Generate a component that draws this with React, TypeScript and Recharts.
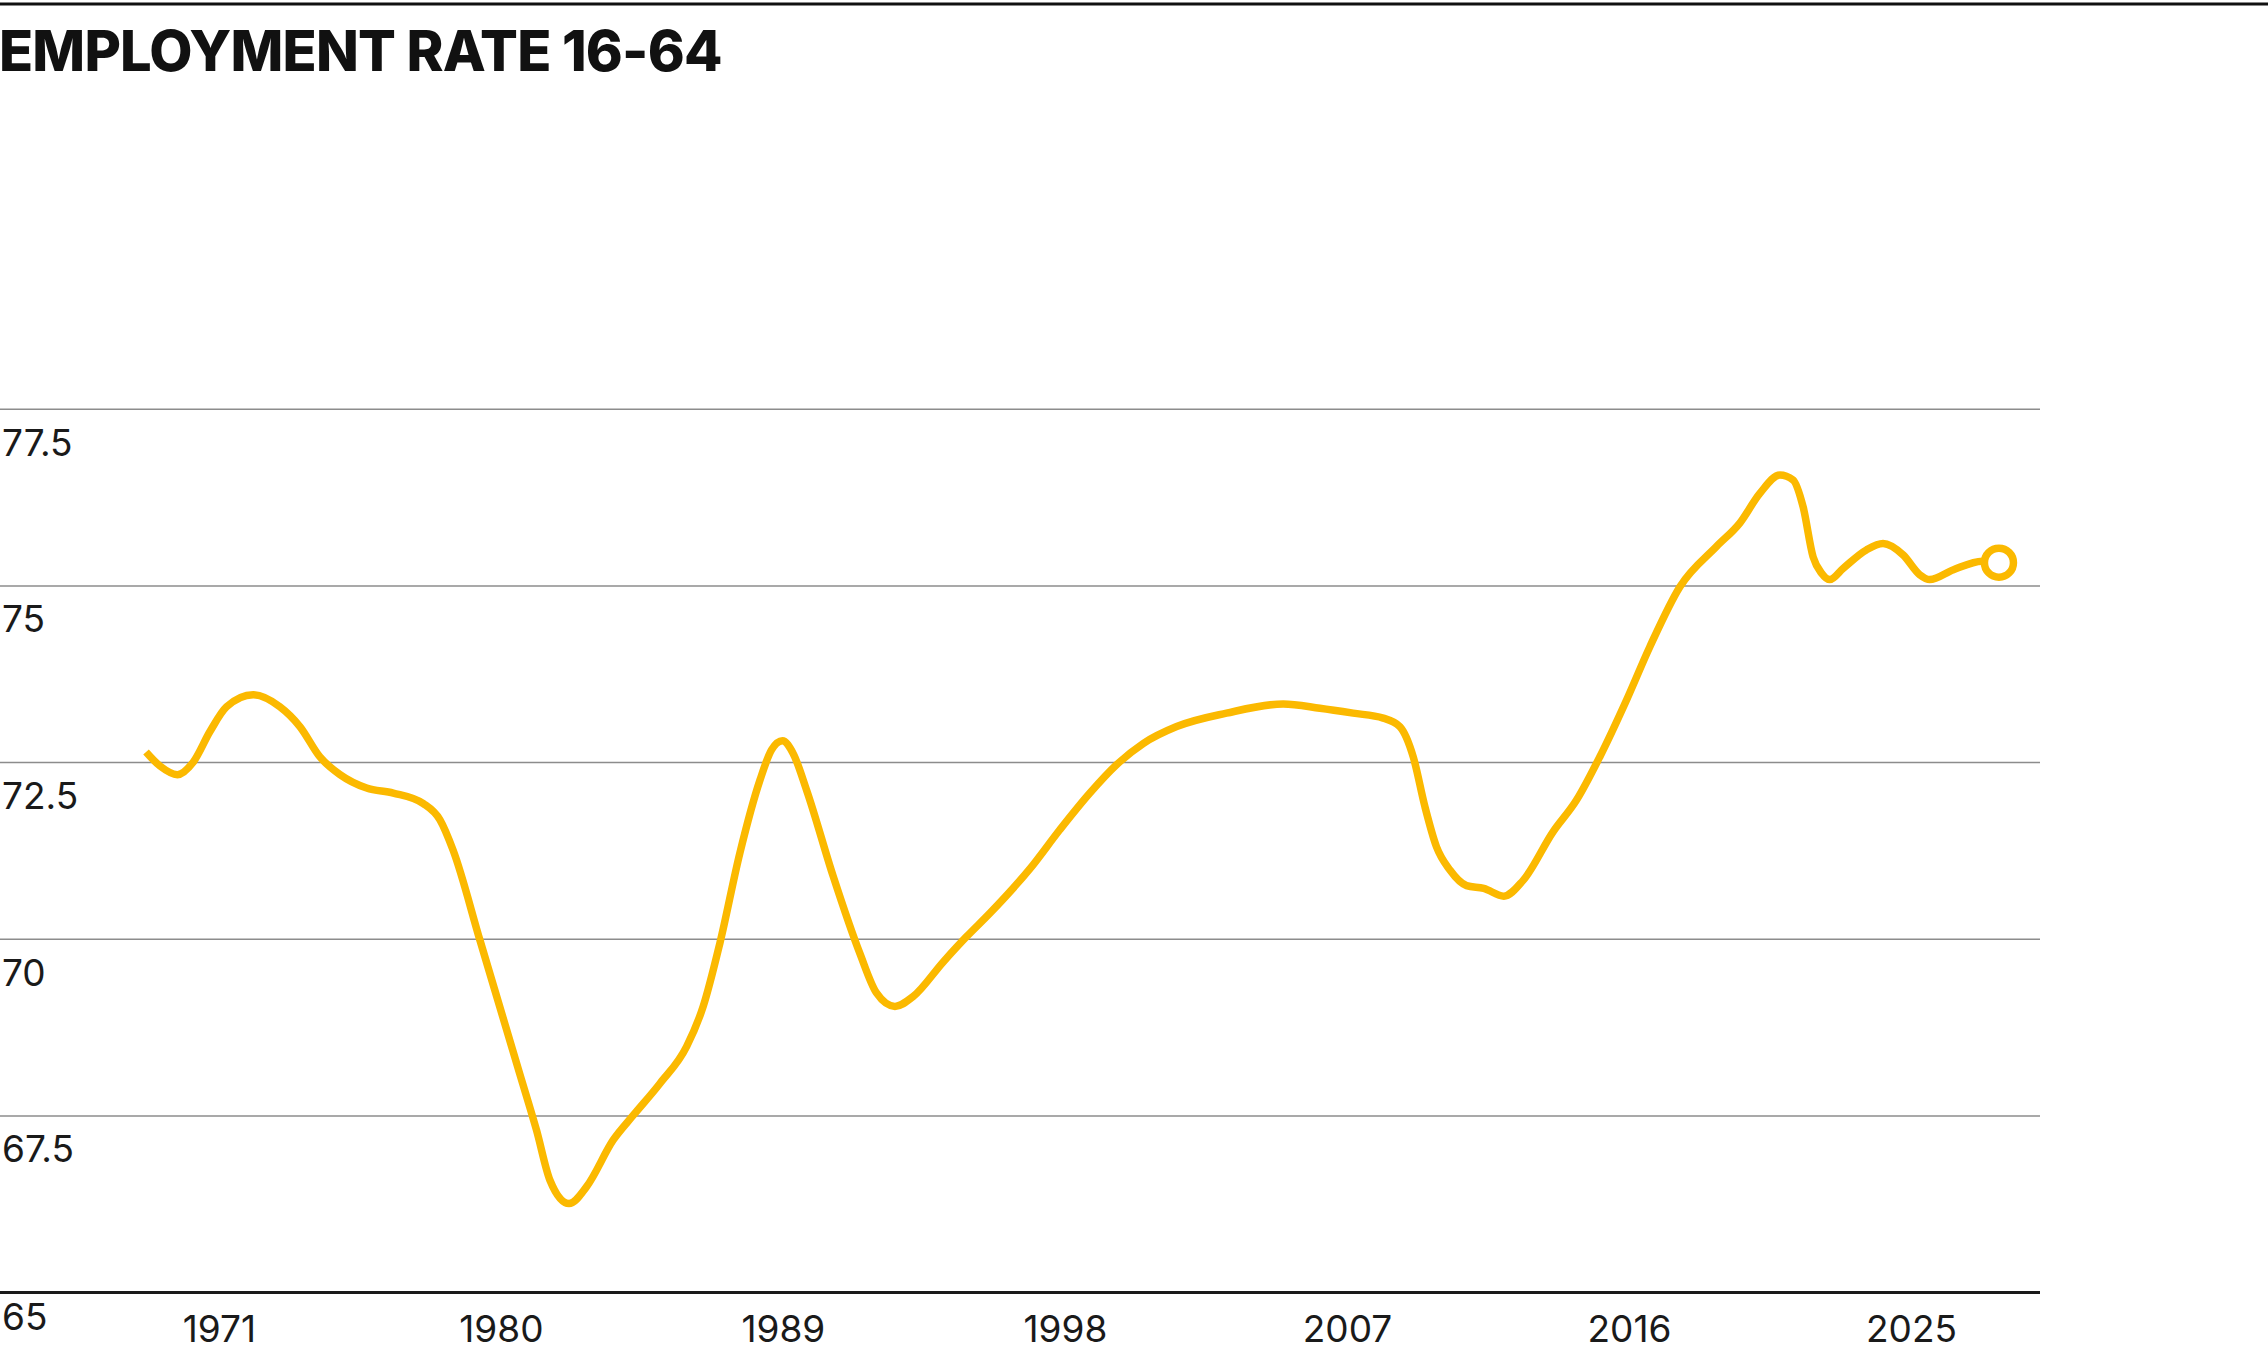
import React from "react";
import { LineChart, Line, XAxis, YAxis, CartesianGrid } from "recharts";

const TITLE = "EMPLOYMENT RATE 16-64";

const years: number[] = [
  1968.66, 1969.11, 1969.66, 1970.17, 1970.7, 1971.23, 1972.08, 1972.93, 1973.57, 1974.21,
  1974.85, 1975.7, 1976.55, 1977.51, 1978.04, 1978.46, 1979.32, 1980.59, 1981.12, 1981.55,
  1982.16, 1982.72, 1983.57, 1984.21, 1985.06, 1985.91, 1986.44, 1986.97, 1987.61, 1988.25,
  1988.62, 1988.97, 1989.31, 1989.74, 1990.59, 1991.44, 1991.97, 1992.56, 1993.14, 1994.1,
  1994.85, 1995.59, 1996.87, 1997.82, 1998.78, 1999.63, 2000.48, 2001.55, 2003.14,
  2004.95, 2006.12, 2007.18, 2008.14, 2008.67, 2009.1, 2009.47, 2009.84, 2010.27, 2010.8,
  2011.35, 2011.99, 2012.6, 2013.56, 2014.31, 2015.05, 2015.91, 2016.65, 2017.61, 2018.78,
  2019.52, 2020.16, 2020.8, 2021.22, 2021.54, 2021.86, 2022.13, 2022.39, 2022.82, 2023.56,
  2024.09, 2024.73, 2025.26, 2025.58, 2026.34, 2027.26, 2027.79,
];

const rates: number[] = [
  72.65, 72.45, 72.33, 72.51, 72.94, 73.29, 73.46, 73.29, 73.01, 72.58,
  72.33, 72.14, 72.07, 71.92, 71.69, 71.26, 69.98, 68.09, 67.3, 66.59,
  66.26, 66.5, 67.16, 67.51, 67.96, 68.48, 69.05, 69.94, 71.22, 72.25,
  72.68, 72.81, 72.63, 72.11, 70.89, 69.8, 69.24, 69.05, 69.19, 69.68,
  70.04, 70.37, 71.0, 71.55, 72.07, 72.47, 72.77, 73.01, 73.2,
  73.33, 73.27, 73.2, 73.13, 73.01, 72.58, 71.88, 71.31, 70.98, 70.76,
  70.72, 70.61, 70.83, 71.52, 71.97, 72.58, 73.39, 74.14, 74.99, 75.56,
  75.89, 76.31, 76.57, 76.5, 76.12, 75.41, 75.18, 75.09, 75.25, 75.51,
  75.6, 75.44, 75.16, 75.09, 75.23, 75.35, 75.33,
];

const xTicks: number[] = [1971, 1980, 1989, 1998, 2007, 2016, 2025];
const yTicks: number[] = [65, 67.5, 70, 72.5, 75, 77.5];

const data = years.map((y, i) => ({ year: y, rate: rates[i] }));

const YELLOW = "#FBB900";
const TEXT = "#1a1a1a";
const FONT = "Inter, 'Noto Sans', sans-serif";

const YTick = (props: any) => {
  const { y, payload } = props;
  const off = payload.value === 65 ? 37.5 : 46.5;
  return (
    <text x={2} y={y + off} fontSize={37} fill={TEXT} fontFamily={FONT} textAnchor="start">
      {String(payload.value)}
    </text>
  );
};

const XTick = (props: any) => {
  const { x, y, payload } = props;
  return (
    <text x={x} y={y + 41} fontSize={37} fill={TEXT} fontFamily={FONT} textAnchor="middle">
      {String(payload.value)}
    </text>
  );
};

const renderDot = (props: any) => {
  const { cx, cy, index } = props;
  if (index === data.length - 1) {
    return (
      <circle key={`dot-${index}`} cx={cx} cy={cy} r={14.5} fill="#ffffff" stroke={YELLOW} strokeWidth={7.5} />
    );
  }
  return <g key={`dot-${index}`} />;
};

export default function App() {
  return (
    <div style={{ position: "absolute", left: 0, top: 0, width: 2268, height: 1355, background: "#fff" }}>
      <svg width={2268} height={100} style={{ position: "absolute", left: 0, top: 0 }}>
        <rect x={0} y={2.5} width={2268} height={3} fill="#111" />
        <text x={-1} y={70.7} fontSize={56} fontWeight={800} fill="#111" fontFamily={FONT} letterSpacing={-0.8}>
          {TITLE}
        </text>
      </svg>
      <div style={{ position: "absolute", left: 0, top: 0 }}>
        <LineChart
          width={2268}
          height={1355}
          data={data}
          margin={{ top: 409.3, right: 228, bottom: 0, left: -1 }}
        >
          <CartesianGrid vertical={false} stroke="#8c8c8c" strokeWidth={1.5} />
          <XAxis
            type="number"
            dataKey="year"
            domain={[1964, 2029.1]}
            ticks={xTicks}
            allowDataOverflow
            height={62.4}
            tickLine={false}
            axisLine={{ stroke: TEXT, strokeWidth: 3 }}
            tick={<XTick />}
            interval={0}
          />
          <YAxis
            type="number"
            domain={[65, 77.5]}
            ticks={yTicks}
            allowDataOverflow
            width={1}
            axisLine={false}
            tickLine={false}
            tick={<YTick />}
            interval={0}
          />
          <Line
            type="monotone"
            dataKey="rate"
            stroke={YELLOW}
            strokeWidth={7.5}
            dot={renderDot}
            activeDot={false}
            isAnimationActive={false}
          />
        </LineChart>
      </div>
    </div>
  );
}
